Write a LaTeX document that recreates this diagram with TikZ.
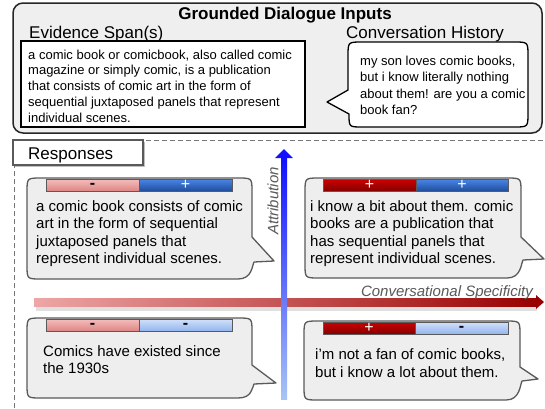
\documentclass[tikz,border=0pt]{standalone}
\usepackage{fontspec}
\setmainfont{Liberation Sans}
\definecolor{boxgray}{HTML}{EFEFEF}
\definecolor{bubgray}{HTML}{EEEEEE}
\definecolor{edgegray}{HTML}{5A5A5A}
\definecolor{dashgray}{HTML}{777777}
\definecolor{lredA}{HTML}{F4BDBD}
\definecolor{lredB}{HTML}{DE8585}
\definecolor{dredA}{HTML}{CC0000}
\definecolor{dredB}{HTML}{850000}
\definecolor{dblueA}{HTML}{4A86E8}
\definecolor{dblueB}{HTML}{1F4E9C}
\definecolor{lblueA}{HTML}{D2E1FA}
\definecolor{lblueB}{HTML}{93B5EE}
\definecolor{labelgray}{HTML}{595959}
\definecolor{arrowblue}{HTML}{1010FF}
\definecolor{arrowlblue}{HTML}{A8C4F5}
\definecolor{arrowlred}{HTML}{EEA6A6}
\definecolor{arrowdred}{HTML}{990000}
\tikzset{
  outerbox/.style={draw=black!85, fill=boxgray, line width=1.5pt, rounded corners=10pt},
  evbox/.style={draw=black, fill=white, line width=1.5pt},
  convbubble/.style={draw=black, fill=white, line width=1.3pt, line join=round},
  bubble/.style={draw=edgegray, fill=bubgray, line width=1.3pt, line join=round},
  barlr/.style={draw=edgegray, line width=0.8pt, top color=lredA, bottom color=lredB},
  bardr/.style={draw=edgegray, line width=0.8pt, top color=dredA, bottom color=dredB},
  bardb/.style={draw=edgegray, line width=0.8pt, top color=dblueA, bottom color=dblueB},
  barlb/.style={draw=edgegray, line width=0.8pt, top color=lblueA, bottom color=lblueB},
  signw/.style={text=white, font=\fontsize{16}{16}\selectfont, inner sep=0pt},
  signb/.style={text=black, font=\bfseries\fontsize{16}{16}\selectfont, inner sep=0pt},
  heading/.style={font=\fontsize{17}{17}\selectfont, anchor=base west, inner sep=0pt},
  evtext/.style={font=\fontsize{13}{15.8}\selectfont, align=left, anchor=base west, inner sep=0pt},
  convtext/.style={font=\fontsize{13}{16.5}\selectfont, align=left, anchor=base west, inner sep=0pt},
  resptext/.style={font=\fontsize{15}{17.6}\selectfont, align=left, anchor=base west, inner sep=0pt},
  axislabel/.style={font=\itshape\fontsize{15}{15}\selectfont, text=labelgray, inner sep=0pt},
  dashline/.style={draw=dashgray, line width=1pt, dash pattern=on 5pt off 3pt}
}
\begin{document}
\begin{tikzpicture}[x=1pt,y=-1pt]
\useasboundingbox (0,0) rectangle (545,408);
\fill[white] (0,0) rectangle (545,408);

% ---------- top box ----------
\draw[outerbox] (13,3) rectangle (542,133);
\node (title) [font=\bfseries\fontsize{17}{17}\selectfont, inner sep=0pt] at (285,15.5) {Grounded Dialogue Inputs};
\node (evhead) [heading] at (29,38) {Evidence Span(s)};
\node (convhead) [heading] at (346,38) {Conversation History};

\draw[evbox] (21,41) rectangle (305,127);
\node (evtxt) [evtext] at (28,122.2) {a comic book or comicbook, also called comic\\magazine or simply comic, is a publication\\that consists of comic art in the form of\\sequential juxtaposed panels that represent\\individual scenes.};

\draw[convbubble] (362,42) -- (514,42) .. controls (528,42) .. (528,56) -- (528,113)
  .. controls (528,127) .. (514,127) -- (362,127) .. controls (349,127) .. (349,114)
  -- (327,102) -- (348,90) -- (348,56) .. controls (348,42) .. (362,42) -- cycle;
\node (convtxt) [convtext] at (360,114.5) {my son loves comic books,\\but i know literally nothing\\about them! are you a comic\\book fan?};

% ---------- responses area ----------
\draw[dashline] (14,408) -- (14,140) -- (545,140);
\fill[black!25] (15,142) rectangle (145,167);
\draw[draw=edgegray, fill=white, line width=1.2pt] (13,140) rectangle (143,165);
\node (resphead) [heading] at (28,159) {Responses};

% horizontal axis
\fill[black!12] (36,305) rectangle (537,311);
\shade[left color=arrowlred, right color=arrowdred] (34,298) rectangle (537,306);
\fill[arrowdred] (536,295) -- (544,302) -- (536,309) -- cycle;
\node (spec) [axislabel, anchor=base east] at (533,296.5) {Conversational Specificity};

% vertical axis
\shade[top color=arrowblue, bottom color=arrowlblue] (281,157) rectangle (287,399);
\fill[arrowblue] (275,158) -- (284,149) -- (293,158) -- cycle;
\node (attr) [axislabel, rotate=90] at (273,201) {Attribution};

% ---------- bubble 1 ----------
\draw[bubble] (41,178) -- (238,178) .. controls (252,178) .. (252,192) -- (252,237)
  -- (274,261) -- (254,262) .. controls (252,266) and (252,279) .. (238,279)
  -- (41,279) .. controls (27,279) .. (27,265) -- (27,192) .. controls (27,178) .. (41,178) -- cycle;
\draw[barlr] (46,179) rectangle (139,191);
\draw[bardb] (139,179) rectangle (232,191);
\node (s1a) [signb] at (92.5,186) {-};
\node (s1b) [signw] at (185.5,185) {+};
\node (r1) [resptext] at (36,263.8) {a comic book consists of comic\\art in the form of sequential\\juxtaposed panels that\\represent individual scenes.};

% ---------- bubble 2 ----------
\draw[bubble] (319,178) -- (507,178) .. controls (521,178) .. (521,192) -- (521,237)
  -- (544,259) -- (523,260) .. controls (521,264) and (521,278) .. (507,278)
  -- (319,278) .. controls (305,278) .. (305,264) -- (305,192) .. controls (305,178) .. (319,178) -- cycle;
\draw[bardr] (323,179) rectangle (416,191);
\draw[bardb] (416,179) rectangle (508,191);
\node (s2a) [signw] at (369.5,185) {+};
\node (s2b) [signw] at (462,185) {+};
\node (r2) [resptext] at (310,263.8) {i know a bit about them. comic\\books are a publication that\\has sequential panels that\\represent individual scenes.};

% ---------- bubble 3 ----------
\draw[bubble] (41,318) -- (238,318) .. controls (252,318) .. (252,332) -- (252,365)
  -- (276,383) -- (254,384) .. controls (252,388) and (252,398) .. (238,398)
  -- (41,398) .. controls (27,398) .. (27,384) -- (27,332) .. controls (27,318) .. (41,318) -- cycle;
\draw[barlr] (46,319) rectangle (139,331);
\draw[barlb] (139,319) rectangle (232,331);
\node (s3a) [signb] at (92.5,326) {-};
\node (s3b) [signb] at (185.5,326) {-};
\node (r3) [resptext] at (43,373.6) {Comics have existed since\\the 1930s};

% ---------- bubble 4 ----------
\draw[bubble] (318,321) -- (506,321) .. controls (520,321) .. (520,335) -- (520,367)
  -- (538,379) -- (522,381) .. controls (520,385) and (520,400) .. (506,400)
  -- (318,400) .. controls (304,400) .. (304,386) -- (304,335) .. controls (304,321) .. (318,321) -- cycle;
\draw[bardr] (323,322) rectangle (415,334);
\draw[barlb] (415,322) rectangle (508,334);
\node (s4a) [signw] at (369,328) {+};
\node (s4b) [signb] at (461.5,329) {-};
\node (r4) [resptext] at (315,377.1) {i'm not a fan of comic books,\\but i know a lot about them.};
\end{tikzpicture}
\end{document}
